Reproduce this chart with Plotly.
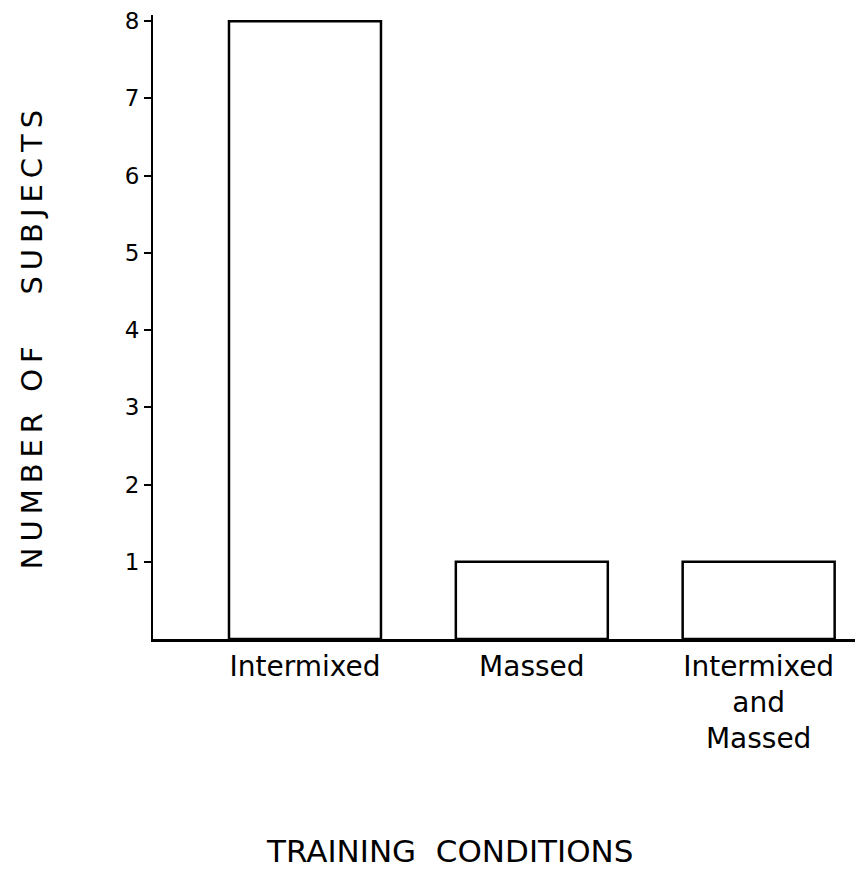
import plotly.graph_objects as go

conditions = ["Intermixed", "Massed", "Intermixed<br>and<br>Massed"]
subjects = [8, 1, 1]
y_ticks = [1, 2, 3, 4, 5, 6, 7, 8]

font = dict(family="DejaVu Sans, Arial, sans-serif", color="black")

fig = go.Figure()
fig.add_trace(go.Bar(
    x=conditions,
    y=subjects,
    width=0.67,
    marker=dict(color="white", line=dict(color="black", width=2.5)),
))

# page body has an 8px margin, so the figure is a bit smaller than the window
fig.update_layout(
    width=855, height=867,
    margin=dict(l=145, r=0, t=7, b=236),
    plot_bgcolor="white", paper_bgcolor="white",
    showlegend=False,
    font=dict(size=20, **font),
    xaxis=dict(
        range=[-0.67, 2.46],
        showline=True, linecolor="black", linewidth=3,
        ticks="", showgrid=False,
        tickfont=dict(size=28, **font),
    ),
    yaxis=dict(
        range=[0, 8.08],
        tickvals=y_ticks,
        showline=True, linecolor="black", linewidth=2,
        ticks="outside", ticklen=7, tickwidth=2, tickcolor="black",
        showgrid=False, zeroline=False,
        tickfont=dict(size=23, **font),
    ),
    annotations=[
        dict(text='<span style="letter-spacing:6px">NUMBER OF   SUBJECTS</span>',
             textangle=-90,
             xref="paper", yref="paper", x=-0.170, y=0.484,
             xanchor="center", yanchor="middle", showarrow=False,
             font=dict(size=29, **font)),
        dict(text="TRAINING  CONDITIONS",
             xref="paper", yref="paper", x=0.418, y=-0.340,
             xanchor="center", yanchor="middle", showarrow=False,
             font=dict(size=31, **font)),
    ],
)

fig.write_html("out.html")
